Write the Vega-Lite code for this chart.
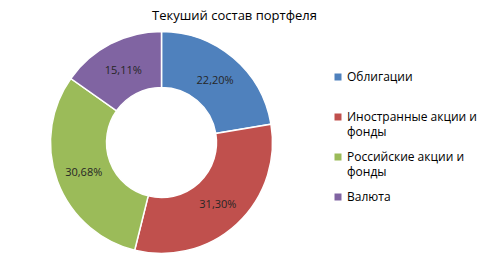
{
  "$schema": "https://vega.github.io/schema/vega-lite/v6.json",
  "width": 323,
  "height": 225,
  "autosize": {"type": "none"},
  "padding": {"left": 0, "top": 30, "right": 154, "bottom": 23},
  "background": "white",
  "title": {
    "text": "Текуший состав портфеля",
    "font": "Open Sans",
    "fontSize": 13,
    "fontWeight": "normal",
    "color": "#000000",
    "frame": "group",
    "anchor": "middle",
    "dx": 73,
    "offset": 6
  },
  "data": {
    "values": [
      {"name": "Облигации", "v": 22.20, "label": "22,20%", "i": 1},
      {"name": "Иностранные акции и фонды", "v": 31.30, "label": "31,30%", "i": 2},
      {"name": "Российские акции и фонды", "v": 30.68, "label": "30,68%", "i": 3},
      {"name": "Валюта", "v": 15.11, "label": "15,11%", "i": 4}
    ]
  },
  "encoding": {
    "theta": {"field": "v", "type": "quantitative", "stack": true},
    "order": {"field": "i", "type": "quantitative"}
  },
  "layer": [
    {
      "mark": {"type": "arc", "innerRadius": 55, "outerRadius": 111, "stroke": "white", "strokeWidth": 1.5},
      "encoding": {
        "color": {
          "field": "name",
          "type": "nominal",
          "scale": {
            "domain": ["Облигации", "Иностранные акции и фонды", "Российские акции и фонды", "Валюта"],
            "range": ["#4F81BD", "#C0504D", "#9BBB59", "#8064A2"]
          },
          "legend": {
            "title": null,
            "orient": "none",
            "legendX": 332,
            "legendY": 41,
            "padding": 0,
            "symbolType": "square",
            "symbolSize": 49,
            "symbolStrokeWidth": 0,
            "labelFont": "Open Sans",
            "labelFontSize": 12,
            "labelColor": "#000000",
            "labelOffset": 3,
            "rowPadding": 13,
            "labelExpr": "datum.label == 'Иностранные акции и фонды' ? ['Иностранные акции и', 'фонды'] : datum.label == 'Российские акции и фонды' ? ['Российские акции и', 'фонды'] : [datum.label, '']"
          }
        }
      }
    },
    {
      "mark": {"type": "text", "radius": 83, "font": "Open Sans", "fontSize": 11, "color": "#262626", "dy": 2},
      "encoding": {
        "text": {"field": "label", "type": "nominal"}
      }
    }
  ],
  "config": {"view": {"stroke": null}, "style": {"guide-label": {"lineHeight": 15}}}
}
